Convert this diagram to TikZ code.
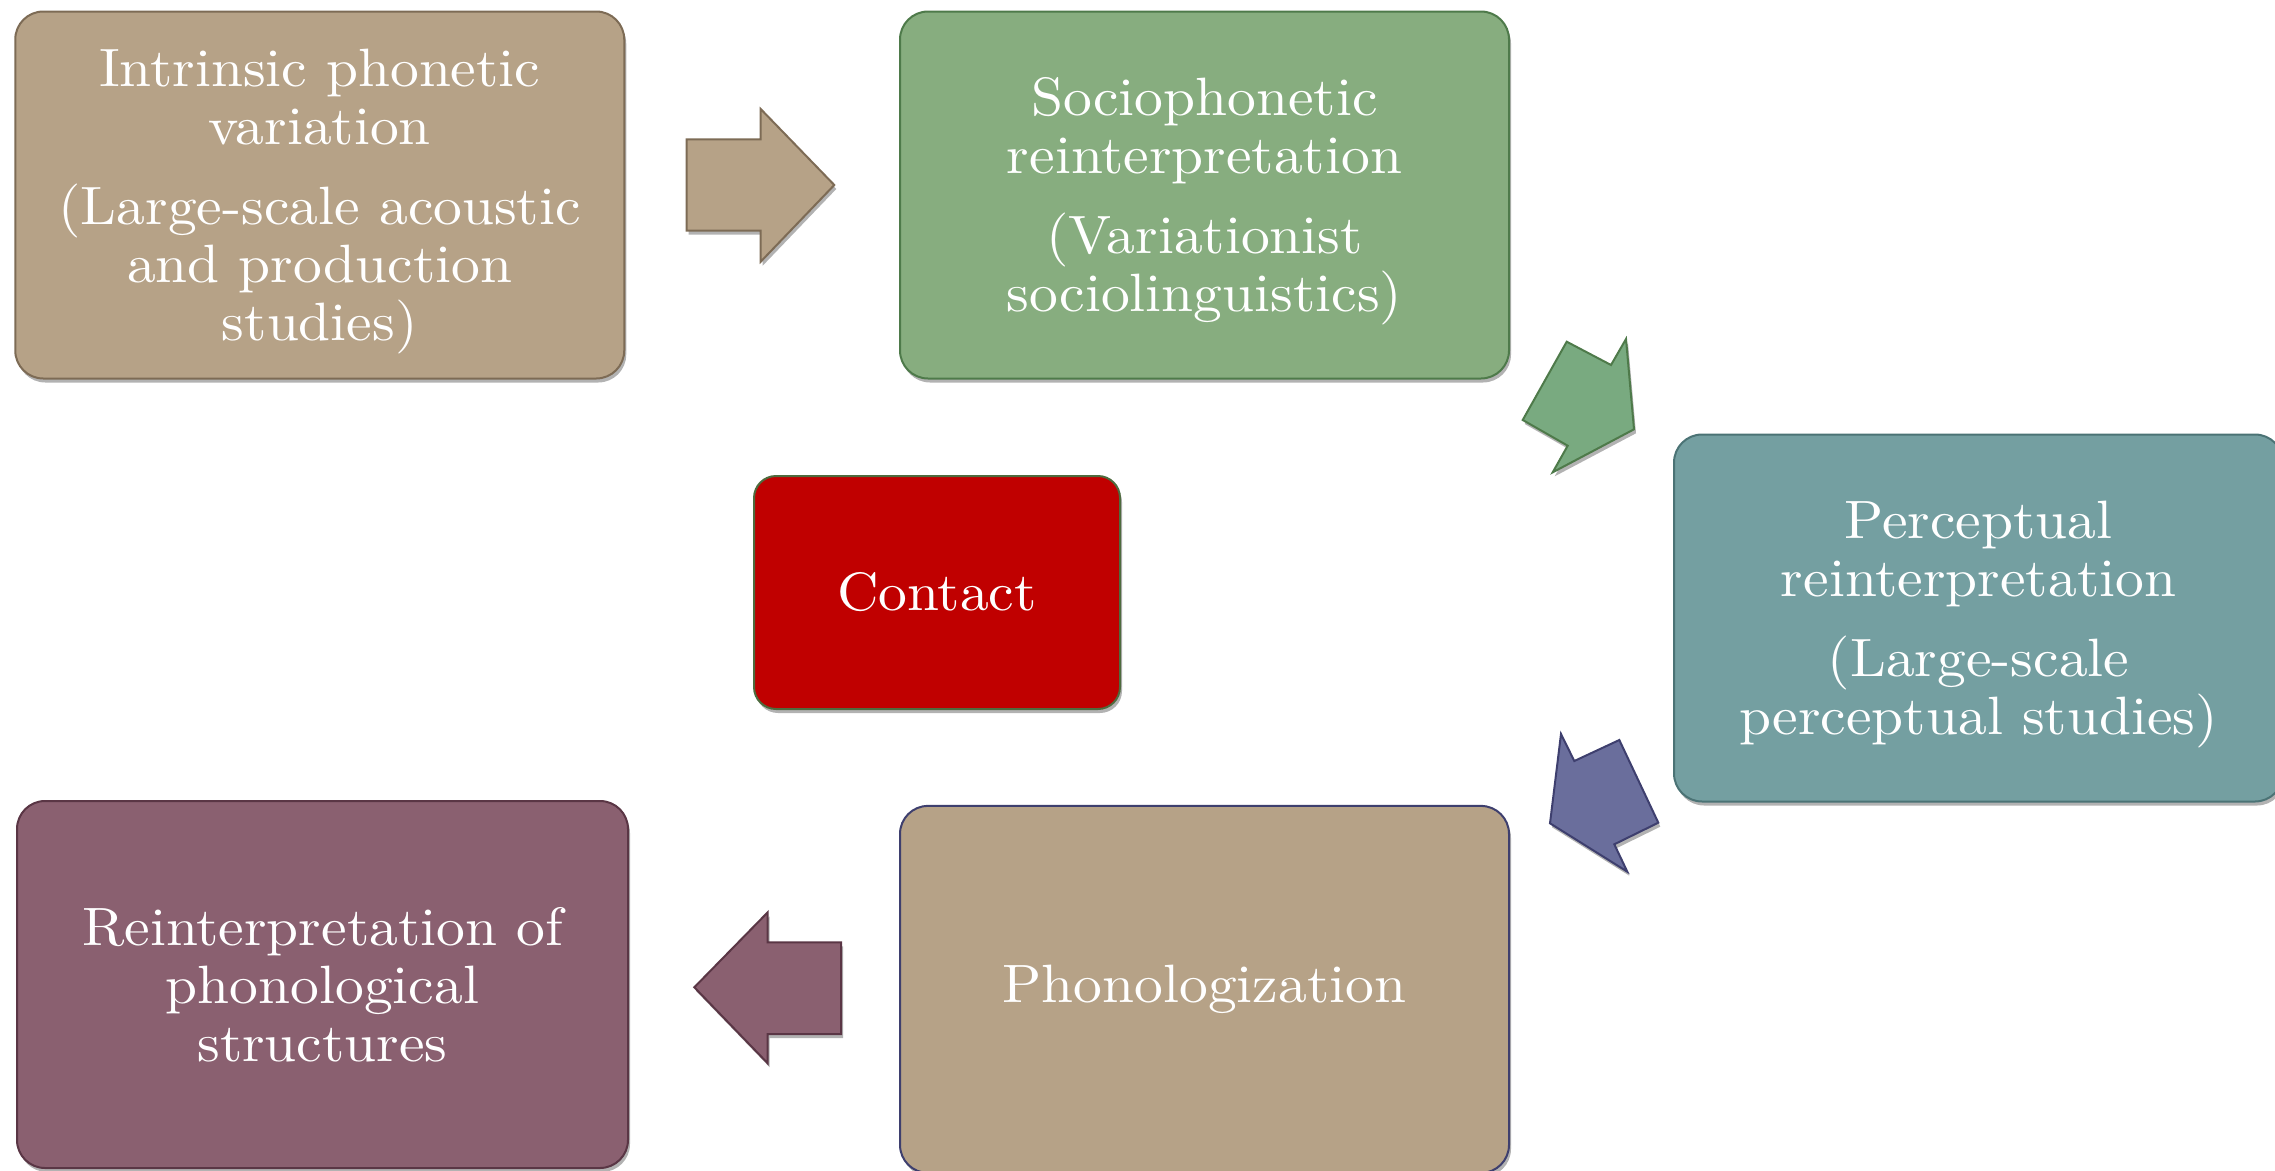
\documentclass[tikz,border=0pt]{standalone}
\usepackage{fontspec}
\setmainfont{lmroman10-regular.otf}[FakeStretch=1.065]
\usetikzlibrary{shadows}
\definecolor{tanF}{HTML}{B6A287}
\definecolor{tanD}{HTML}{7D6B55}
\definecolor{greenF}{HTML}{87AD7F}
\definecolor{greenD}{HTML}{4E7A4A}
\definecolor{greenA}{HTML}{79AA80}
\definecolor{tealF}{HTML}{749FA1}
\definecolor{tealD}{HTML}{4B7375}
\definecolor{purpF}{HTML}{6A6E9C}
\definecolor{purpD}{HTML}{3E3F6E}
\definecolor{burgF}{HTML}{8A6070}
\definecolor{burgD}{HTML}{5A3645}
\definecolor{redF}{HTML}{C00000}
\definecolor{redD}{HTML}{4E6B3E}
\newcommand{\topstrut}{\rule{0pt}{50pt}}
\begin{document}
\begin{tikzpicture}[x=1pt,y=-1pt,
  shad/.style={drop shadow={shadow xshift=2pt,shadow yshift=-4pt,opacity=0.3,fill=black}},
  box/.style={shad,rounded corners=28pt,line width=2pt,text=white,align=center,
    font=\fontsize{54}{58}\selectfont,inner sep=0pt,
    minimum width=609pt,minimum height=367pt},
  blockarrow/.style={shad,line width=2pt,line join=miter}]
\useasboundingbox (0,0) rectangle (2275,1170);

\node[box,fill=tanF,draw=tanD] (intrinsic) at (319.75,195)
  {\topstrut Intrinsic phonetic\\variation\\[22pt](Large-scale acoustic\\and production\\studies)};
\node[box,fill=greenF,draw=greenD] (socio) at (1204.5,195)
  {\topstrut Sociophonetic\\reinterpretation\\[22pt](Variationist\\sociolinguistics)};
\node[box,fill=tealF,draw=tealD] (percept) at (1978.5,618)
  {\topstrut Perceptual\\reinterpretation\\[22pt](Large-scale\\perceptual studies)};
\node[box,fill=tanF,draw=purpD] (phonol) at (1204.5,989.4)
  {Phonologization};
\node[box,fill=burgF,draw=burgD,minimum width=611pt] (reinterp) at (322.5,984.5)
  {Reinterpretation of\\phonological\\structures};
\node[box,fill=redF,draw=redD,rounded corners=22pt,minimum width=366pt,minimum height=233pt] (contact) at (937,592.5)
  {Contact};

% block arrows
\draw[blockarrow,fill=tanF,draw=tanD]
  (686.7,139.3) -- (760.7,139.3) -- (760.7,109) -- (834.3,185)
  -- (760.7,261.7) -- (760.7,230.7) -- (686.7,230.7) -- cycle;
\draw[blockarrow,fill=greenA,draw=greenD]
  (1566.7,341.7) -- (1611,365) -- (1626,339) -- (1634,429.3)
  -- (1552.7,472.3) -- (1567.7,445.7) -- (1522.7,420) -- cycle;
\draw[blockarrow,fill=purpF,draw=purpD]
  (1561,734) -- (1574.3,761) -- (1619.3,740) -- (1658.3,822.7)
  -- (1614.3,844.3) -- (1627.3,871.7) -- (1550,823.3) -- cycle;
\draw[blockarrow,fill=burgF,draw=burgD]
  (694.3,987.3) -- (767.7,912.3) -- (767.7,942.3) -- (841,942.3)
  -- (841,1034) -- (767.7,1034) -- (767.7,1063.3) -- cycle;
\end{tikzpicture}
\end{document}
